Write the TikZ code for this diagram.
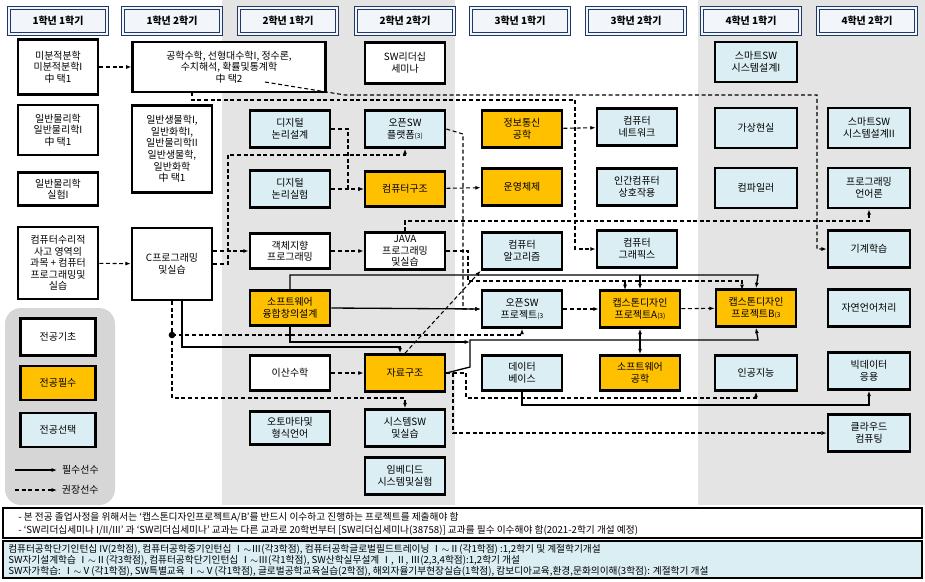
\documentclass[tikz,border=0pt]{standalone}
\usepackage{fontspec}
\newfontfamily\kr{Noto Sans CJK KR}
\usetikzlibrary{arrows.meta}
\definecolor{reqy}{HTML}{FFC000}
\definecolor{elecb}{HTML}{DAEEF3}
\definecolor{bggray}{HTML}{E4E4E4}
\definecolor{leggray}{HTML}{D6D6D6}
\definecolor{hdrb}{HTML}{1F3864}
\definecolor{hdrf}{HTML}{F2F5FA}
\begin{document}
\begin{tikzpicture}[
  x=0.0265cm, y=-0.0265cm,
  >={Latex[length=4pt]},
  course/.style={rectangle, draw, line width=2pt, minimum width=2.12cm, minimum height=0.98cm, align=center, inner sep=1pt, font=\kr\fontsize{7.5}{8.7}\selectfont},
  basic/.style={course, fill=white},
  must/.style={course, fill=reqy},
  elec/.style={course, fill=elecb},
  header/.style={rectangle, draw=hdrb, double=hdrf, double distance=1.2pt, line width=0.9pt, fill=hdrf, minimum width=2.6cm, minimum height=0.7cm, font=\kr\bfseries\fontsize{7.5}{8}\selectfont},
  req/.style={->, line width=1pt},
  rec/.style={->, line width=0.8pt, dash pattern=on 3pt off 2pt},
  note/.style={anchor=west, font=\kr\fontsize{7.3}{8}\selectfont, inner sep=0pt}
]
\useasboundingbox (0,0) rectangle (925,581);

% backgrounds
\fill[bggray] (222,0) rectangle (455,505);
\fill[bggray] (698,0) rectangle (925,505);
\fill[leggray, rounded corners=12pt] (5,308) rectangle (115,505);

% headers
\foreach \x/\t [count=\i] in {58/1학년 1학기, 172/1학년 2학기, 288/2학년 1학기, 405/2학년 2학기, 520/3학년 1학기, 636/3학년 2학기, 751/4학년 1학기, 867/4학년 2학기}
  \node[header] (h\i) at (\x,21) {\t};

% 1학년
\node[basic, minimum height=1.45cm] (calc) at (58,67) {미분적분학\\미분적분학I\\中 택1};
\node[basic, minimum height=1.32cm] (phys) at (58,130) {일반물리학\\일반물리학I\\中 택1};
\node[basic, minimum height=0.88cm] (physlab) at (58,189) {일반물리학\\실험I};
\node[basic, minimum height=1.9cm] (pre) at (58,263) {컴퓨터수리적\\사고 영역의\\과목 + 컴퓨터\\프로그래밍및\\실습};
\node[basic, minimum width=5.1cm, minimum height=1.32cm] (eng) at (229,67) {공학수학, 선형대수학I, 정수론,\\수치해석, 확률및통계학\\中 택2};
\node[basic, minimum height=2.3cm] (sci) at (172,149) {일반생물학I,\\일반화학I,\\일반물리학II\\일반생물학,\\일반화학\\中 택1};
\node[basic, minimum height=1.9cm] (cprog) at (172,264) {C프로그래밍\\및실습};

% 2학년
\node[elec] (dld) at (290,129) {디지털\\논리설계};
\node[elec] (dlx) at (290,189) {디지털\\논리실험};
\node[basic, minimum height=0.93cm] (oop) at (290,251) {객체지향\\프로그래밍};
\node[must, minimum height=0.93cm] (fusion) at (290,308) {소프트웨어\\융합창의설계};
\node[basic, minimum height=0.93cm] (disc) at (290,373) {이산수학};
\node[elec, minimum height=0.88cm] (auto) at (290,428) {오토마타및\\형식언어};
\node[basic, minimum height=1.1cm] (lead) at (405,63) {SW리더십\\세미나};
\node[elec] (osp) at (405,129) {오픈SW\\플랫폼{\tiny(3)}};
\node[must, minimum height=0.93cm] (arch) at (405,189) {컴퓨터구조};
\node[basic] (java) at (405,251) {JAVA\\프로그래밍\\및실습};
\node[must] (ds) at (405,373) {자료구조};
\node[elec] (sys) at (405,428) {시스템SW\\및실습};
\node[elec] (emb) at (405,476) {임베디드\\시스템및실험};

% 3학년
\node[must] (ice) at (522,129) {정보통신\\공학};
\node[must] (os) at (522,187) {운영체제};
\node[elec] (alg) at (522,251) {컴퓨터\\알고리즘};
\node[elec] (osw) at (522,309) {오픈SW\\프로젝트{\tiny(3}};
\node[elec, minimum height=0.93cm] (db) at (522,373) {데이터\\베이스};
\node[elec] (net) at (637,127) {컴퓨터\\네트워크};
\node[elec] (hci) at (637,187) {인간컴퓨터\\상호작용};
\node[elec] (cg) at (637,249) {컴퓨터\\그래픽스};
\node[must] (capa) at (640,309) {캡스톤디자인\\프로젝트A{\tiny(3)}};
\node[must, minimum height=0.93cm] (se) at (640,373) {소프트웨어\\공학};

% 4학년
\node[elec, minimum width=2.17cm, minimum height=1.06cm] (smart1) at (756,62) {스마트SW\\시스템설계I};
\node[elec, minimum width=2.17cm, minimum height=1.06cm] (vr) at (756,128) {가상현실};
\node[elec, minimum width=2.17cm, minimum height=1.06cm] (comp) at (756,188) {컴파일러};
\node[must] (capb) at (756,308) {캡스톤디자인\\프로젝트B{\tiny(3}};
\node[elec, minimum width=2.17cm, minimum height=0.93cm] (ai) at (756,373) {인공지능};
\node[elec, minimum width=2.17cm, minimum height=1.06cm] (smart2) at (869,128) {스마트SW\\시스템설계II};
\node[elec, minimum width=2.17cm, minimum height=1.06cm] (pl) at (869,188) {프로그래밍\\언어론};
\node[elec, minimum width=2.17cm] (ml) at (869,249) {기계학습};
\node[elec, minimum width=2.17cm] (nlp) at (869,308) {자연언어처리};
\node[elec, minimum width=2.17cm] (bigd) at (869,371) {빅데이터\\응용};
\node[elec, minimum width=2.17cm] (cloud) at (869,433) {클라우드\\컴퓨팅};

% 범례
\node[basic, minimum width=1.98cm] (lgb) at (58,337) {전공기초};
\node[must, minimum width=1.98cm, minimum height=0.9cm] (lgm) at (58,383) {전공필수};
\node[elec, minimum width=1.98cm, minimum height=0.9cm] (lge) at (58,430) {전공선택};
\coordinate (l1a) at (15,470); \coordinate (l1b) at (57,470);
\coordinate (l2a) at (15,490); \coordinate (l2b) at (57,490);
\draw[req] (l1a) -- (l1b) node[right, font=\kr\fontsize{7.5}{8}\selectfont] {필수선수};
\draw[rec] (l2a) -- (l2b) node[right, font=\kr\fontsize{7.5}{8}\selectfont] {권장선수};

% 권장선수
\draw[rec] (calc) -- (calc -| eng.west);
\draw[rec] (pre) -- (cprog);
\draw[rec] (cprog.east |- oop) -- (oop);
\draw[rec] (oop) -- (java);
\draw[rec] (dld.east) -- (348,129) |- (arch.west);
\draw[rec] (dlx) -- (arch);
\draw[rec] (cprog.east) -| (228,155) -| (osp.south);
\draw[rec] (192,92) |- (575,100) |- (cg.west);
\draw[rec] (265,82) -- (345,95) -- (817,95) |- (ml.west);
\draw[rec] (ice) -- (net);
\draw[rec] (osp.east) -- (463,134) |- (osw.west);
\draw[rec] (arch) -- (os);
\draw[rec] (java.north) -- (405,221) -| (pl.south);
\draw[rec] (cprog.south) -- (172,398) -| (sys.north);
\fill (172,335) circle (2.5pt);
\draw[rec] (172,335) -| (osw.south);
\draw[rec] (disc) -- (ds);
\draw[rec] (ds.north) -- (alg.south west);
\draw[rec] (ds.east) -| (466,398) -| (ai.south);
\draw[rec] (ds.east) -- (453,373) |- (cloud.west);
\draw[rec] (osw) -- (capa);
\draw[rec] (capa) -- (capb);
\draw[rec] (java.east) -| (468,281) -| (742,290);
\draw[rec] (625,281) -- (625,290);

% 필수선수
\draw[req] (cprog.south -| 182,0) |- (400,347) -- (ds.north -| 400,0);
\draw[req] (fusion.north) |- (758,275) -- (capb.north);
\draw[req] (640,275) -- (capa.north);
\draw[req] (fusion.east) -- (osw.west);
\draw[req] (fusion.south) |- (470,342);
\draw[req] (ds.east) -- (470,367) |- (758,340) -- (capb.south);
\draw[req] (640,340) -- (capa.south);
\draw[req] (640,340) -- (se.north);
\draw[req] (db.south) |- (869,405) -- (bigd.south);

% 안내
\draw[line width=1.5pt, fill=white] (3,508) rectangle (922,538);
\node[note] (n1) at (18,517) {- 본 전공 졸업사정을 위해서는 ‘캡스톤디자인프로젝트A/B’를 반드시 이수하고 진행하는 프로젝트를 제출해야 함};
\node[note] (n2) at (18,530) {- ‘SW리더십세미나 I/II/III’ 과 ‘SW리더십세미나’ 교과는 다른 교과로 20학번부터 [SW리더십세미나(38758)] 교과를 필수 이수해야 함(2021-2학기 개설 예정)};
\draw[line width=2pt, fill=elecb] (3,541) rectangle (922,578);
\node[note] (n3) at (8,549) {컴퓨터공학단기인턴십 IV(2학점), 컴퓨터공학중기인턴십 Ⅰ$\sim$Ⅲ(각3학점), 컴퓨터공학글로벌필드트레이닝 Ⅰ$\sim$Ⅱ(각1학점) :1,2학기 및 계절학기개설};
\node[note] (n4) at (8,560) {SW자기설계학습 Ⅰ$\sim$Ⅱ(각3학점), 컴퓨터공학단기인턴십 Ⅰ$\sim$Ⅲ(각1학점), SW산학실무설계 Ⅰ, Ⅱ, Ⅲ(2,3,4학점):1,2학기 개설};
\node[note] (n5) at (8,571) {SW자가학습: Ⅰ$\sim$Ⅴ(각1학점), SW특별교육 Ⅰ$\sim$Ⅴ(각1학점), 글로벌공학교육실습(2학점), 해외자율기부현장실습(1학점), 캄보디아교육,환경,문화의이해(3학점): 계절학기 개설};
\end{tikzpicture}
\end{document}
